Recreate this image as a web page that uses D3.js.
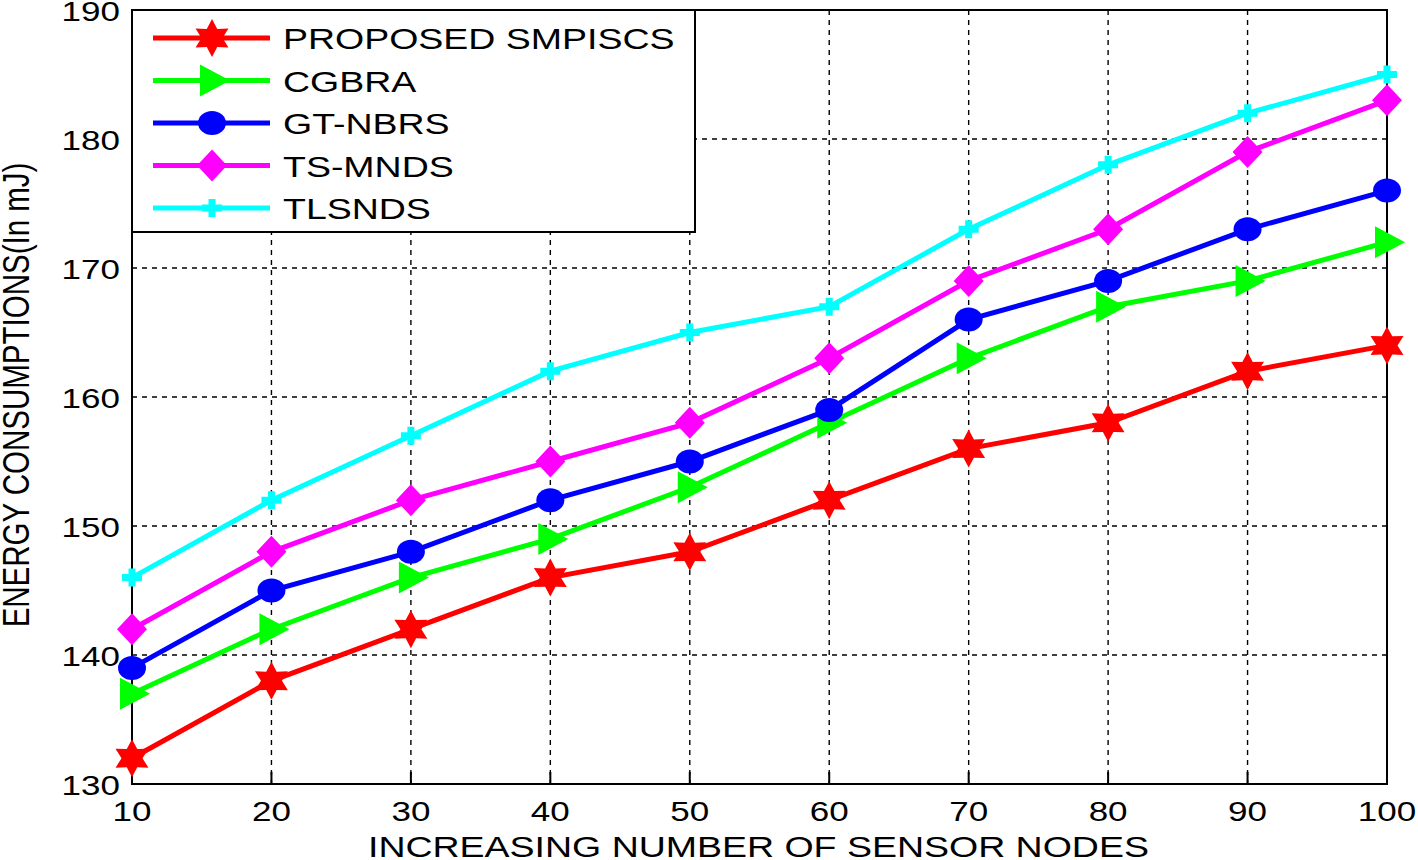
<!DOCTYPE html>
<html>
<head>
<meta charset="utf-8">
<title>Energy consumption</title>
<script src="https://d3js.org/d3.v7.min.js"></script>
<style>
  body { margin: 0; background: #fff; overflow: hidden; }
  svg text { font-family: "Liberation Sans", Arial, sans-serif; fill: #000; }
</style>
</head>
<body>
<script>
// data
var nodes = [10, 20, 30, 40, 50, 60, 70, 80, 90, 100];
var proposed = [132, 138, 142, 146, 148, 152, 156, 158, 162, 164];
var cgbra    = [137, 142, 146, 149, 153, 158, 163, 167, 169, 172];
var gtnbrs   = [139, 145, 148, 152, 155, 159, 166, 169, 173, 176];
var tsmnds   = [142, 148, 152, 155, 158, 163, 169, 173, 179, 183];
var tlsnds   = [146, 152, 157, 162, 165, 167, 173, 178, 182, 185];
var seriesNames = ["PROPOSED SMPISCS", "CGBRA", "GT-NBRS", "TS-MNDS", "TLSNDS"];
var xTicks = [10, 20, 30, 40, 50, 60, 70, 80, 90, 100];
var yTicks = [130, 140, 150, 160, 170, 180, 190];

var colors = ["#ff0000", "#00ff00", "#0000ff", "#ff00ff", "#00ffff"];
var markers = ["hexagram", "triangle", "circle", "diamond", "plus"];
var allSeries = [proposed, cgbra, gtnbrs, tsmnds, tlsnds];

var width = 1418, height = 860;
var pLeft = 132, pRight = 1387, pTop = 10, pBottom = 784;
var stretch = 1.25; // the original figure is widened horizontally

var svg = d3.select("body").append("svg")
    .attr("width", width)
    .attr("height", height);

var x = d3.scaleLinear().domain([10, 100]).range([pLeft, pRight]);
var y = d3.scaleLinear().domain([130, 190]).range([pBottom, pTop]);

// grid
var grid = svg.append("g");
grid.selectAll(".gx")
    .data(xTicks.slice(1, -1))
    .enter().append("line")
    .attr("x1", function(d) { return x(d); })
    .attr("x2", function(d) { return x(d); })
    .attr("y1", pTop).attr("y2", pBottom)
    .attr("stroke", "#000").attr("stroke-width", 1.4)
    .attr("stroke-dasharray", "5,5");
grid.selectAll(".gy")
    .data(yTicks.slice(1, -1))
    .enter().append("line")
    .attr("x1", pLeft).attr("x2", pRight)
    .attr("y1", function(d) { return y(d); })
    .attr("y2", function(d) { return y(d); })
    .attr("stroke", "#000").attr("stroke-width", 1.4)
    .attr("stroke-dasharray", "5,5");

// axes box
svg.append("rect")
    .attr("x", pLeft).attr("y", pTop)
    .attr("width", pRight - pLeft).attr("height", pBottom - pTop)
    .attr("fill", "none").attr("stroke", "#000").attr("stroke-width", 2);

// small inside ticks
svg.selectAll(".tx")
    .data(xTicks)
    .enter().append("line")
    .attr("x1", function(d) { return x(d); })
    .attr("x2", function(d) { return x(d); })
    .attr("y1", pBottom).attr("y2", pBottom - 12)
    .attr("stroke", "#000").attr("stroke-width", 2);

// tick labels
svg.selectAll(".xl")
    .data(xTicks)
    .enter().append("text")
    .attr("transform", function(d) { return "translate(" + x(d) + "," + (pBottom + 37) + ") scale(" + stretch + ",1)"; })
    .attr("text-anchor", "middle")
    .style("font-size", "28px")
    .text(function(d) { return d; });
svg.selectAll(".yl")
    .data(yTicks)
    .enter().append("text")
    .attr("transform", function(d) { return "translate(" + (pLeft - 12) + "," + (y(d) + 11) + ") scale(" + stretch + ",1)"; })
    .attr("text-anchor", "end")
    .style("font-size", "28px")
    .text(function(d) { return d; });

// axis titles
svg.append("text")
    .attr("transform", "translate(368,857) scale(" + stretch + ",1)")
    .style("font-size", "30px")
    .text("INCREASING NUMBER OF SENSOR NODES");
svg.append("text")
    .attr("transform", "translate(29,395) scale(" + stretch + ",1) rotate(-90)")
    .attr("text-anchor", "middle")
    .style("font-size", "29.5px")
    .text("ENERGY CONSUMPTIONS(In mJ)");

function markerPath(kind) {
  if (kind == "hexagram") {
    var pts = [];
    for (var i = 0; i < 12; i++) {
      var r = i % 2 == 0 ? 19 : 10.5;
      var a = -Math.PI / 2 + i * Math.PI / 6;
      pts.push([r * Math.cos(a), r * Math.sin(a)]);
    }
    return "M" + pts.join("L") + "Z";
  }
  if (kind == "triangle") return "M-12,-16L18,0L-12,16Z";
  if (kind == "circle") return "M-14,0A14,12 0 1,0 14,0A14,12 0 1,0 -14,0Z";
  if (kind == "diamond") return "M0,-16L15,0L0,16L-15,0Z";
  return "M-3.5,-9L3.5,-9L3.5,-3.5L10,-3.5L10,3.5L3.5,3.5L3.5,9L-3.5,9L-3.5,3.5L-10,3.5L-10,-3.5L-3.5,-3.5Z";
}

var line = d3.line()
    .x(function(d, i) { return x(nodes[i]); })
    .y(function(d) { return y(d); });

allSeries.forEach(function(vals, k) {
  var g = svg.append("g");
  g.append("path")
      .datum(vals)
      .attr("d", line)
      .attr("fill", "none")
      .attr("stroke", colors[k])
      .attr("stroke-width", 5);
  g.selectAll("path.mk")
      .data(vals)
      .enter().append("path")
      .attr("class", "mk")
      .attr("transform", function(d, i) { return "translate(" + x(nodes[i]) + "," + y(d) + ")"; })
      .attr("d", markerPath(markers[k]))
      .attr("fill", colors[k]);
});

// legend
var legend = svg.append("g");
legend.append("rect")
    .attr("x", pLeft).attr("y", pTop)
    .attr("width", 695 - pLeft).attr("height", 232 - pTop)
    .attr("fill", "#fff").attr("stroke", "#000").attr("stroke-width", 2);
var rowY = d3.scalePoint().domain(seriesNames).range([38, 208]);
seriesNames.forEach(function(name, k) {
  var ry = rowY(name);
  legend.append("line")
      .attr("x1", 153).attr("x2", 270)
      .attr("y1", ry).attr("y2", ry)
      .attr("stroke", colors[k]).attr("stroke-width", 5);
  legend.append("path")
      .attr("transform", "translate(212," + ry + ")")
      .attr("d", markerPath(markers[k]))
      .attr("fill", colors[k]);
  legend.append("text")
      .attr("transform", "translate(283," + (ry + 11) + ") scale(" + stretch + ",1)")
      .style("font-size", "30px")
      .text(name);
});
</script>
</body>
</html>
